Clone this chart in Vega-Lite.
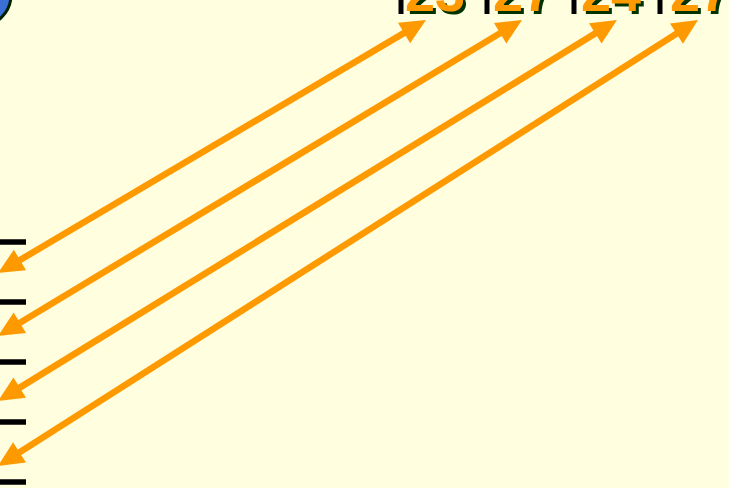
{
  "$schema": "https://vega.github.io/schema/vega-lite/v6.json",
  "width": 729,
  "height": 488,
  "autosize": {"type": "none"},
  "padding": 0,
  "background": "#FFFFE0",
  "config": {"view": {"stroke": null}, "axis": {"disable": true}},
  "datasets": {
    "arrows": [
      {"arrow": 1, "x1": -2, "y1": 273, "x2": 426, "y2": 20},
      {"arrow": 2, "x1": -2, "y1": 336, "x2": 522, "y2": 20},
      {"arrow": 3, "x1": -2, "y1": 401, "x2": 617, "y2": 20},
      {"arrow": 4, "x1": -2, "y1": 466, "x2": 698, "y2": 20}
    ],
    "labels": [
      {"label": "23", "x": 405, "y": 11},
      {"label": "27", "x": 493, "y": 11},
      {"label": "24", "x": 581, "y": 11},
      {"label": "27", "x": 670, "y": 11}
    ],
    "bars": [
      {"x": 401, "top": -20, "bottom": 14},
      {"x": 487, "top": -20, "bottom": 14},
      {"x": 574, "top": -20, "bottom": 14},
      {"x": 660, "top": -20, "bottom": 14}
    ],
    "dashes": [
      {"xa": -2, "xb": 26, "y": 242},
      {"xa": -2, "xb": 26, "y": 302},
      {"xa": -2, "xb": 26, "y": 362},
      {"xa": -2, "xb": 26, "y": 422},
      {"xa": -2, "xb": 26, "y": 482}
    ],
    "circle": [{"x": -20, "y": -5}]
  },
  "layer": [
    {
      "data": {"name": "bars"},
      "mark": {"type": "rule", "color": "#000000", "strokeWidth": 5},
      "encoding": {
        "x": {"field": "x", "type": "quantitative", "scale": {"domain": [0, 729], "nice": false, "zero": false}},
        "y": {"field": "top", "type": "quantitative", "scale": {"domain": [0, 488], "nice": false, "zero": false, "reverse": true}},
        "y2": {"field": "bottom"}
      }
    },
    {
      "data": {"name": "labels"},
      "mark": {"type": "text", "align": "left", "baseline": "alphabetic", "font": "Liberation Sans", "fontWeight": "bold", "fontSize": 54, "color": "#003300", "dx": 3, "dy": 3},
      "encoding": {
        "x": {"field": "x", "type": "quantitative"},
        "y": {"field": "y", "type": "quantitative"},
        "text": {"field": "label"}
      }
    },
    {
      "data": {"name": "labels"},
      "mark": {"type": "text", "align": "left", "baseline": "alphabetic", "font": "Liberation Sans", "fontWeight": "bold", "fontSize": 54, "color": "#FF9900"},
      "encoding": {
        "x": {"field": "x", "type": "quantitative"},
        "y": {"field": "y", "type": "quantitative"},
        "text": {"field": "label"}
      }
    },
    {
      "data": {"name": "dashes"},
      "mark": {"type": "rule", "color": "#000000", "strokeWidth": 5.5},
      "encoding": {
        "x": {"field": "xa", "type": "quantitative"},
        "x2": {"field": "xb"},
        "y": {"field": "y", "type": "quantitative"}
      }
    },
    {
      "data": {"name": "arrows"},
      "transform": [
        {"calculate": "sqrt(pow(datum.x2 - datum.x1, 2) + pow(datum.y2 - datum.y1, 2))", "as": "len"},
        {"calculate": "(datum.x2 - datum.x1) / datum.len", "as": "ux"},
        {"calculate": "(datum.y2 - datum.y1) / datum.len", "as": "uy"},
        {"calculate": "datum.x1 + datum.ux * 15", "as": "lx1"},
        {"calculate": "datum.y1 + datum.uy * 15", "as": "ly1"},
        {"calculate": "datum.x2 - datum.ux * 15", "as": "lx2"},
        {"calculate": "datum.y2 - datum.uy * 15", "as": "ly2"}
      ],
      "mark": {"type": "rule", "color": "#FF9900", "strokeWidth": 6.5, "strokeCap": "butt"},
      "encoding": {
        "x": {"field": "lx1", "type": "quantitative"},
        "y": {"field": "ly1", "type": "quantitative"},
        "x2": {"field": "lx2"},
        "y2": {"field": "ly2"}
      }
    },
    {
      "data": {"name": "arrows"},
      "transform": [
        {"calculate": "atan2(datum.x2 - datum.x1, -(datum.y2 - datum.y1)) * 180 / PI", "as": "a2"}
      ],
      "mark": {"type": "point", "shape": "M0,0L-0.47,1L0.47,1Z", "filled": true, "color": "#FF9900", "opacity": 1, "size": 2600},
      "encoding": {
        "x": {"field": "x2", "type": "quantitative"},
        "y": {"field": "y2", "type": "quantitative"},
        "angle": {"field": "a2", "type": "quantitative", "scale": null}
      }
    },
    {
      "data": {"name": "arrows"},
      "transform": [
        {"calculate": "atan2(-(datum.x2 - datum.x1), datum.y2 - datum.y1) * 180 / PI", "as": "a1"}
      ],
      "mark": {"type": "point", "shape": "M0,0L-0.47,1L0.47,1Z", "filled": true, "color": "#FF9900", "opacity": 1, "size": 2600},
      "encoding": {
        "x": {"field": "x1", "type": "quantitative"},
        "y": {"field": "y1", "type": "quantitative"},
        "angle": {"field": "a1", "type": "quantitative", "scale": null}
      }
    },
    {
      "data": {"name": "circle"},
      "mark": {"type": "point", "shape": "circle", "filled": true, "fill": "#3B6FD6", "stroke": "#002200", "strokeWidth": 3, "opacity": 1, "size": 3844},
      "encoding": {
        "x": {"field": "x", "type": "quantitative"},
        "y": {"field": "y", "type": "quantitative"}
      }
    }
  ]
}
